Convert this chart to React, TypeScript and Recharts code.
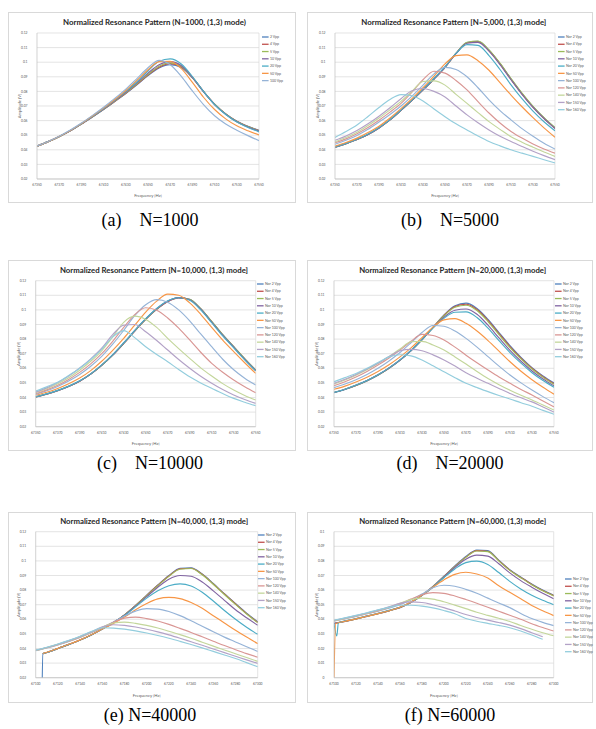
import React from 'react';
import { LineChart, Line, XAxis, YAxis, CartesianGrid, Legend } from 'recharts';

// ---------- shared ticks / labels ----------
const COLORS = ['#4F81BD', '#C0504D', '#9BBB59', '#8064A2', '#4BACC6', '#F79646', '#95B3D7', '#D99694', '#C3D69B', '#B3A2C7', '#93CDDD'];
const xTicksHigh = [67350, 67370, 67390, 67410, 67430, 67450, 67470, 67490, 67510, 67530, 67550];
const xTicksLow = [67100, 67120, 67140, 67160, 67180, 67200, 67220, 67240, 67260, 67280, 67300];
const yTicks02 = [0.02, 0.03, 0.04, 0.05, 0.06, 0.07, 0.08, 0.09, 0.1, 0.11, 0.12];
const yTicks00 = [0, 0.01, 0.02, 0.03, 0.04, 0.05, 0.06, 0.07, 0.08, 0.09, 0.1];
const namesA = ['2 Vpp', '4 Vpp', '5 Vpp', '10 Vpp', '20 Vpp', '50 Vpp', '100 Vpp'];
const namesNor = ['Nor 2 Vpp', 'Nor 4 Vpp', 'Nor 5 Vpp', 'Nor 10 Vpp', 'Nor 20 Vpp', 'Nor 50 Vpp', 'Nor 100 Vpp', 'Nor 120 Vpp', 'Nor 140 Vpp', 'Nor 150 Vpp', 'Nor 160 Vpp'];

// ---------- frequency rows (Hz) ----------
const freqHigh = [67350, 67360, 67370, 67380, 67390, 67400, 67410, 67420, 67430, 67440, 67450, 67460, 67470, 67480, 67490, 67500, 67510, 67520, 67530, 67540, 67550];
const freqE = [67100, 67105.5, 67106.5, 67110, 67120, 67130, 67140, 67150, 67160, 67170, 67180, 67190, 67200, 67210, 67220, 67230, 67240, 67250, 67260, 67270, 67280, 67290, 67300];
const freqF = [67100, 67101.5, 67102.5, 67104, 67110, 67120, 67130, 67140, 67150, 67160, 67170, 67180, 67190, 67200, 67210, 67220, 67230, 67240, 67250, 67260, 67270, 67280, 67290, 67300];

// ---------- amplitudes in mV ----------
// (a) N=1000
const a2 = [42.5, 45.6, 49.0, 53.0, 57.6, 62.5, 67.6, 73.0, 78.5, 84.5, 90.8, 96.0, 98.3, 96.3, 89.2, 79.8, 71.2, 64.6, 59.6, 56.1, 53.4];
const a4 = [42.5, 45.6, 49.0, 53.0, 57.6, 62.6, 67.7, 73.1, 78.7, 84.8, 91.2, 96.6, 99.0, 96.8, 89.5, 80.0, 71.3, 64.6, 59.6, 56.0, 53.2];
const a5 = [42.5, 45.6, 49.0, 53.0, 57.7, 62.7, 67.8, 73.3, 79.0, 85.2, 91.7, 97.2, 99.5, 97.2, 89.7, 80.0, 71.2, 64.5, 59.4, 55.9, 53.0];
const a10 = [42.5, 45.6, 49.1, 53.1, 57.8, 62.8, 68.0, 73.6, 79.4, 85.8, 92.5, 98.2, 100.4, 97.8, 89.8, 79.8, 71.0, 64.3, 59.2, 55.6, 52.8];
const a20 = [42.5, 45.6, 49.1, 53.2, 57.9, 63.0, 68.3, 74.0, 80.0, 86.6, 94.0, 100.6, 102.3, 98.8, 90.2, 80.0, 71.0, 64.2, 59.0, 55.3, 52.3];
const a50 = [42.5, 45.6, 49.2, 53.3, 58.0, 63.2, 68.6, 74.4, 80.6, 87.5, 94.8, 100.4, 100.6, 95.6, 86.2, 76.0, 67.6, 61.2, 56.4, 53.0, 50.2];
const a100 = [42.6, 45.7, 49.3, 53.5, 58.3, 63.6, 69.2, 75.2, 81.6, 88.8, 96.2, 101.3, 98.2, 90.3, 80.3, 71.0, 63.3, 57.6, 53.4, 49.7, 46.3];

// (b) N=5000
const b2 = [41.8, 44.2, 47.0, 50.5, 55.0, 60.5, 67.0, 73.8, 81.0, 88.5, 96.5, 106.0, 113.5, 114.3, 108.2, 99.0, 88.5, 78.5, 69.5, 61.8, 55.0];
const b4 = [41.8, 44.2, 47.0, 50.5, 55.0, 60.5, 67.0, 73.8, 81.0, 88.5, 96.5, 106.0, 113.3, 114.0, 108.0, 98.8, 88.3, 78.3, 69.3, 61.6, 54.8];
const b5 = [41.8, 44.2, 47.0, 50.5, 55.0, 60.5, 67.0, 73.8, 81.0, 88.5, 96.5, 106.0, 113.6, 114.5, 108.5, 99.3, 88.8, 78.8, 69.8, 62.0, 55.2];
const b10 = [41.8, 44.2, 47.0, 50.5, 55.0, 60.5, 67.0, 73.8, 81.0, 88.5, 96.5, 105.8, 113.0, 113.6, 107.6, 98.4, 88.0, 78.0, 69.0, 61.3, 54.6];
const b20 = [42.0, 44.4, 47.2, 50.8, 55.3, 60.8, 67.3, 74.2, 81.5, 89.0, 97.0, 106.0, 112.0, 111.5, 104.5, 95.0, 84.5, 75.0, 66.5, 59.2, 53.0];
const b50 = [42.5, 45.0, 48.0, 51.8, 56.2, 61.8, 68.2, 75.0, 82.5, 90.5, 98.8, 104.5, 105.0, 101.0, 94.5, 86.0, 77.5, 69.5, 62.0, 55.0, 48.6];
const b100 = [43.8, 46.5, 49.8, 54.0, 59.0, 64.2, 70.0, 76.8, 84.3, 92.0, 96.5, 95.0, 90.0, 82.5, 74.2, 66.8, 60.5, 54.5, 49.3, 44.5, 40.5];
const b120 = [44.8, 47.5, 51.0, 55.3, 60.3, 65.8, 71.8, 79.5, 88.0, 93.8, 92.5, 87.5, 81.0, 73.0, 65.2, 58.4, 52.6, 48.0, 44.0, 40.6, 37.7];
const b140 = [45.5, 48.4, 52.0, 56.6, 61.8, 67.4, 73.2, 80.0, 86.8, 87.2, 84.3, 78.0, 71.8, 65.5, 59.3, 54.0, 49.0, 45.2, 41.8, 38.5, 35.5];
const b150 = [46.5, 49.5, 53.2, 57.8, 63.0, 68.8, 75.0, 80.5, 82.0, 80.0, 76.2, 70.0, 63.9, 58.5, 53.6, 49.3, 45.7, 42.3, 39.0, 36.0, 33.2];
const b160 = [48.5, 52.5, 57.0, 62.8, 69.0, 74.5, 77.8, 77.0, 73.5, 68.0, 62.7, 57.8, 53.6, 49.5, 45.7, 42.7, 40.0, 37.7, 35.5, 33.2, 31.0];

// (c) N=10000
const c2 = [40.3, 42.3, 44.7, 47.6, 51.2, 56.0, 62.0, 69.0, 77.0, 85.5, 93.5, 100.5, 105.8, 108.4, 107.2, 100.8, 92.0, 83.0, 74.8, 66.5, 58.8];
const c4 = [40.3, 42.3, 44.7, 47.6, 51.2, 56.0, 62.0, 69.0, 77.0, 85.5, 93.5, 100.4, 105.6, 108.2, 107.0, 100.6, 91.8, 82.8, 74.6, 66.3, 58.6];
const c5 = [40.4, 42.4, 44.8, 47.7, 51.3, 56.1, 62.1, 69.1, 77.1, 85.6, 93.6, 100.6, 105.9, 108.5, 107.3, 100.9, 92.1, 83.1, 74.9, 66.6, 58.9];
const c10 = [40.4, 42.4, 44.8, 47.7, 51.3, 56.1, 62.2, 69.2, 77.3, 85.8, 93.8, 100.8, 106.0, 108.4, 107.0, 100.5, 91.7, 82.7, 74.5, 66.2, 58.5];
const c20 = [40.5, 42.5, 44.9, 47.8, 51.4, 56.2, 62.3, 69.4, 77.5, 86.0, 94.0, 101.0, 106.2, 108.3, 106.6, 100.0, 91.2, 82.2, 74.0, 65.8, 58.2];
const c50 = [41.5, 43.6, 46.2, 49.4, 53.3, 58.4, 64.8, 72.3, 80.5, 89.5, 98.5, 106.0, 110.8, 110.0, 104.8, 97.0, 88.0, 79.3, 71.4, 63.8, 56.5];
const c100 = [42.1, 44.6, 47.6, 51.3, 55.8, 61.4, 68.2, 76.5, 86.0, 96.0, 103.5, 107.0, 105.3, 100.0, 92.5, 83.5, 74.8, 66.2, 59.0, 53.2, 48.5];
const c120 = [42.6, 45.2, 48.4, 52.4, 57.2, 63.0, 70.0, 78.5, 88.0, 96.8, 101.5, 99.8, 94.5, 87.5, 79.4, 71.0, 63.4, 57.3, 52.0, 47.4, 43.3];
const c140 = [43.3, 46.0, 49.4, 53.6, 58.7, 64.8, 72.0, 81.5, 91.5, 95.7, 93.5, 88.0, 80.5, 73.5, 66.8, 60.3, 54.7, 49.5, 45.1, 41.4, 38.3];
const c150 = [43.7, 46.6, 50.2, 54.7, 60.2, 66.5, 73.8, 83.0, 89.5, 90.0, 85.0, 79.0, 72.5, 66.0, 60.0, 54.5, 49.7, 45.4, 41.7, 38.6, 36.0];
const c160 = [44.4, 47.3, 50.5, 55.0, 60.0, 66.0, 73.0, 81.5, 85.8, 81.0, 74.8, 69.5, 64.5, 59.2, 54.2, 50.0, 46.3, 42.7, 39.4, 36.8, 34.4];

// (d) N=20000
const d2 = [43.3, 45.5, 48.2, 51.4, 55.3, 60.0, 65.5, 72.0, 79.5, 88.0, 96.5, 102.8, 104.6, 101.0, 93.5, 84.5, 75.5, 67.5, 60.5, 54.8, 50.0];
const d4 = [43.4, 45.6, 48.3, 51.5, 55.4, 60.1, 65.6, 72.1, 79.6, 88.0, 96.3, 102.3, 103.9, 100.3, 92.8, 83.8, 74.9, 67.0, 60.0, 54.3, 49.5];
const d5 = [43.4, 45.6, 48.3, 51.5, 55.4, 60.1, 65.6, 72.1, 79.6, 88.0, 96.0, 101.8, 103.2, 99.6, 92.0, 83.0, 74.2, 66.4, 59.5, 53.8, 49.0];
const d10 = [43.4, 45.6, 48.4, 51.6, 55.5, 60.2, 65.7, 72.2, 79.7, 87.8, 95.0, 99.8, 100.6, 97.0, 89.5, 80.8, 72.3, 64.8, 58.2, 52.7, 48.0];
const d20 = [43.5, 45.7, 48.5, 51.7, 55.6, 60.3, 65.8, 72.3, 79.8, 87.6, 94.2, 98.4, 98.6, 94.8, 87.5, 79.0, 70.8, 63.5, 57.0, 51.6, 47.0];
const d50 = [45.6, 47.8, 50.6, 53.9, 57.8, 62.4, 67.8, 74.0, 81.0, 88.2, 93.2, 94.0, 90.8, 85.5, 79.0, 71.8, 64.5, 58.0, 52.2, 47.0, 42.2];
const d100 = [46.7, 49.2, 52.2, 55.8, 60.0, 65.0, 70.8, 77.5, 84.5, 89.3, 88.8, 85.5, 80.5, 74.5, 68.0, 61.5, 55.4, 50.0, 45.1, 40.6, 36.4];
const d120 = [48.1, 50.8, 54.0, 57.8, 62.2, 67.0, 72.5, 78.5, 83.2, 82.5, 79.4, 74.5, 69.0, 63.8, 58.8, 54.0, 49.7, 45.5, 41.7, 37.6, 33.6];
const d140 = [49.2, 52.0, 55.3, 59.0, 63.3, 68.0, 73.2, 78.2, 78.4, 76.0, 72.5, 67.8, 62.9, 57.8, 53.0, 48.8, 45.0, 41.5, 38.3, 34.9, 31.4];
const d150 = [49.7, 52.5, 55.8, 59.5, 63.5, 68.0, 72.0, 73.0, 72.0, 69.2, 65.7, 61.5, 57.0, 53.2, 49.7, 46.2, 42.8, 39.8, 37.0, 33.5, 30.0];
const d160 = [50.8, 53.6, 56.5, 60.0, 64.0, 67.8, 69.3, 68.5, 65.7, 61.8, 57.7, 53.6, 49.7, 46.8, 44.0, 41.4, 39.0, 36.4, 34.0, 31.2, 28.5];

// (e) N=40000
const e2 = [null, 0, 36.5, 37.3, 40.0, 42.8, 45.8, 49.3, 53.3, 57.8, 63.0, 69.5, 76.5, 83.5, 90.0, 95.0, 95.3, 91.0, 84.5, 77.5, 70.8, 64.2, 58.3];
const e4 = [null, null, 36.5, 37.3, 40.0, 42.8, 45.8, 49.3, 53.3, 57.8, 63.0, 69.5, 76.4, 83.3, 89.7, 94.6, 95.0, 90.8, 84.2, 77.3, 70.5, 63.9, 58.0];
const e5 = [null, null, 36.5, 37.3, 40.0, 42.8, 45.8, 49.3, 53.3, 57.8, 63.0, 69.4, 76.2, 83.0, 89.4, 94.3, 94.8, 90.5, 84.0, 77.0, 70.2, 63.6, 57.7];
const e10 = [null, null, 36.5, 37.3, 40.0, 42.8, 45.8, 49.3, 53.3, 57.8, 62.8, 69.0, 75.5, 82.0, 87.5, 90.0, 89.5, 85.5, 79.5, 73.0, 66.5, 61.0, 55.9];
const e20 = [null, null, 36.5, 37.3, 40.0, 42.8, 45.8, 49.3, 53.3, 57.7, 62.5, 68.5, 74.5, 79.5, 83.0, 84.3, 82.8, 78.5, 72.5, 66.0, 60.0, 54.5, 49.7];
const e50 = [null, null, 36.6, 37.4, 40.1, 42.9, 45.9, 49.4, 53.3, 57.2, 61.5, 66.5, 70.8, 74.0, 75.0, 74.2, 71.5, 67.5, 62.5, 57.5, 52.5, 47.8, 43.3];
const e100 = [38.5, null, null, 40.4, 42.5, 44.9, 47.6, 50.8, 54.3, 58.2, 62.3, 65.6, 67.3, 67.0, 65.3, 62.5, 59.0, 55.2, 51.5, 47.8, 44.5, 41.2, 38.0];
const e120 = [38.6, null, null, 40.5, 42.6, 45.0, 47.8, 51.0, 54.4, 58.0, 60.8, 61.5, 60.5, 58.8, 56.5, 53.8, 51.0, 48.0, 45.0, 42.0, 39.2, 36.5, 34.0];
const e140 = [38.7, null, null, 40.6, 42.8, 45.2, 48.0, 51.2, 54.6, 57.5, 58.1, 57.2, 55.8, 54.0, 51.8, 49.5, 47.0, 44.3, 41.6, 39.0, 36.4, 33.8, 31.2];
const e150 = [38.8, null, null, 40.7, 42.9, 45.4, 48.2, 51.4, 54.8, 56.3, 55.8, 54.7, 53.2, 51.4, 49.3, 47.0, 44.6, 42.2, 39.7, 37.2, 34.7, 32.2, 29.8];
const e160 = [38.9, null, null, 40.9, 43.1, 45.6, 48.4, 51.6, 54.2, 54.0, 53.3, 52.1, 50.6, 48.9, 47.0, 44.9, 42.7, 40.4, 38.0, 35.6, 33.1, 30.3, 27.5];

// (f) N=60000
const f2 = [37.0, null, null, null, 38.6, 40.2, 42.0, 43.8, 45.8, 48.0, 51.5, 56.5, 62.5, 69.5, 76.5, 83.0, 87.5, 87.0, 80.5, 74.0, 69.0, 64.2, 60.0, 56.5];
const f4 = [37.0, null, null, null, 38.6, 40.2, 42.0, 43.8, 45.8, 48.0, 51.5, 56.4, 62.3, 69.2, 76.2, 82.6, 87.0, 86.6, 80.2, 73.7, 68.7, 63.9, 59.7, 56.2];
const f5 = [37.1, null, null, null, 38.7, 40.3, 42.1, 43.9, 45.9, 48.1, 51.6, 56.4, 62.2, 69.0, 76.0, 82.4, 86.8, 86.4, 80.0, 73.5, 68.5, 63.7, 59.5, 56.0];
const f10 = [37.2, null, null, null, 38.8, 40.4, 42.2, 44.0, 46.0, 48.2, 51.6, 56.3, 62.0, 68.8, 75.5, 81.2, 84.0, 83.3, 78.0, 71.8, 66.5, 62.0, 57.8, 54.0];
const f20 = [37.3, null, 28.6, 37.6, 38.9, 40.5, 42.3, 44.1, 46.1, 48.3, 51.7, 56.3, 62.0, 68.5, 74.5, 78.8, 79.8, 77.5, 72.0, 66.0, 60.8, 56.5, 53.0, 50.0];
const f50 = [0, 37.0, null, null, 38.7, 40.3, 42.1, 43.9, 45.9, 48.2, 51.8, 56.5, 62.0, 67.0, 70.8, 72.2, 71.0, 68.3, 63.0, 58.5, 54.0, 49.5, 45.8, 42.5];
const f100 = [38.8, null, null, null, 40.4, 42.0, 43.8, 45.6, 47.6, 50.0, 53.2, 57.3, 61.6, 63.3, 62.6, 60.5, 57.8, 54.5, 51.2, 48.0, 44.0, 40.5, 37.9, 35.7];
const f120 = [38.9, null, null, null, 40.5, 42.1, 43.9, 45.8, 47.9, 50.5, 53.8, 56.8, 58.3, 57.8, 56.0, 53.6, 51.0, 48.2, 45.5, 42.8, 40.0, 37.0, 34.4, 32.0];
const f140 = [39.0, null, null, null, 40.6, 42.3, 44.1, 46.0, 48.2, 51.0, 53.5, 54.5, 53.8, 52.0, 49.7, 47.3, 44.8, 42.7, 40.7, 38.5, 35.8, 33.2, 30.8, 28.7];
const f150 = [39.2, null, null, null, 40.8, 42.5, 44.3, 46.3, 48.5, 50.9, 51.9, 51.5, 50.0, 48.0, 45.7, 43.3, 41.2, 39.4, 37.8, 36.0, 33.6, 30.8, 28.0, null];
const f160 = [39.4, null, null, null, 41.0, 42.7, 44.5, 46.5, 48.2, 49.6, 49.6, 49.0, 47.8, 46.0, 43.8, 40.6, 38.7, 37.2, 35.8, 34.2, 32.0, 29.3, 26.3, null];

// ---------- table building ----------
type Val = number | null;
function buildRows(freq: number[], series: Val[][]) {
  return freq.map((f, i) => {
    const row: Record<string, number | null> = { f };
    series.forEach((s, k) => {
      const v = s[i];
      row['s' + k] = v == null ? null : v / 1000; // mV -> V
    });
    return row;
  });
}

const FONT = "Lato, 'Liberation Sans', sans-serif";
const TICK = { fontSize: 3.3, fill: '#595959', fontFamily: FONT };
const fmtY = (v: number) => (v === 0 ? '0' : String(Number(v.toFixed(2))));

type PanelCfg = {
  left: number; top: number; w: number;
  plotLeft: number; plotTop: number; plotWidth: number;
  title: string; titleX: number; titleY: number; titleLen: number;
  legendX: number; legendY: number;
  freq: number[]; series: Val[][]; names: string[];
  xDomain: [number, number]; xTicks: number[];
  yDomain: [number, number]; yTicks: number[];
  caption: string;
};

const H = 191;
const PLOT_H = 146;

const panels: PanelCfg[] = [
  {
    left: 8, top: 12, w: 288, plotLeft: 29, plotTop: 21, plotWidth: 222,
    title: 'Normalized Resonance Pattern (N=1000, (1,3) mode)', titleX: 146.5, titleY: 10.7, titleLen: 183,
    legendX: 253.7, legendY: 25.3,
    freq: freqHigh, series: [a2, a4, a5, a10, a20, a50, a100], names: namesA,
    xDomain: [67350, 67550], xTicks: xTicksHigh, yDomain: [0.02, 0.12], yTicks: yTicks02,
    caption: '(a)    N=1000',
  },
  {
    left: 307, top: 12, w: 286, plotLeft: 28, plotTop: 21, plotWidth: 220,
    title: 'Normalized Resonance Pattern [N=5,000, (1,3) mode]', titleX: 146.8, titleY: 10.7, titleLen: 185,
    legendX: 251, legendY: 25.3,
    freq: freqHigh, series: [b2, b4, b5, b10, b20, b50, b100, b120, b140, b150, b160], names: namesNor,
    xDomain: [67350, 67550], xTicks: xTicksHigh, yDomain: [0.02, 0.12], yTicks: yTicks02,
    caption: '(b)    N=5000',
  },
  {
    left: 8, top: 260, w: 288, plotLeft: 27.7, plotTop: 20.7, plotWidth: 220,
    title: 'Normalized Resonance Pattern [N=10,000, (1,3) mode]', titleX: 146, titleY: 10, titleLen: 188,
    legendX: 249.3, legendY: 24,
    freq: freqHigh, series: [c2, c4, c5, c10, c20, c50, c100, c120, c140, c150, c160], names: namesNor,
    xDomain: [67350, 67550], xTicks: xTicksHigh, yDomain: [0.02, 0.12], yTicks: yTicks02,
    caption: '(c)    N=10000',
  },
  {
    left: 307, top: 260, w: 286, plotLeft: 27, plotTop: 20.7, plotWidth: 220,
    title: 'Normalized Resonance Pattern [N=20,000, (1,3) mode]', titleX: 145.7, titleY: 10, titleLen: 187,
    legendX: 248.3, legendY: 24,
    freq: freqHigh, series: [d2, d4, d5, d10, d20, d50, d100, d120, d140, d150, d160], names: namesNor,
    xDomain: [67350, 67550], xTicks: xTicksHigh, yDomain: [0.02, 0.12], yTicks: yTicks02,
    caption: '(d)    N=20000',
  },
  {
    left: 8, top: 512, w: 288, plotLeft: 27.7, plotTop: 19.7, plotWidth: 222,
    title: 'Normalized Resonance Pattern [N=40,000, (1,3) mode]', titleX: 146.2, titleY: 9.7, titleLen: 188,
    legendX: 250, legendY: 23,
    freq: freqE, series: [e2, e4, e5, e10, e20, e50, e100, e120, e140, e150, e160], names: namesNor,
    xDomain: [67100, 67300], xTicks: xTicksLow, yDomain: [0.02, 0.12], yTicks: yTicks02,
    caption: '(e) N=40000',
  },
  {
    left: 307, top: 512, w: 286, plotLeft: 27, plotTop: 19.7, plotWidth: 219.7,
    title: 'Normalized Resonance Pattern [N=60,000, (1,3) mode]', titleX: 145.7, titleY: 9.7, titleLen: 187,
    legendX: 257.7, legendY: 67,
    freq: freqF, series: [f2, f4, f5, f10, f20, f50, f100, f120, f140, f150, f160], names: namesNor,
    xDomain: [67100, 67300], xTicks: xTicksLow, yDomain: [0, 0.1], yTicks: yTicks00,
    caption: '(f) N=60000',
  },
];

const LEG_STEP = 7.27;

function LegendSvg({ names }: { names: string[] }) {
  return (
    <svg width={46} height={names.length * LEG_STEP + 4} style={{ display: 'block', overflow: 'visible' }}>
      {names.map((n, i) => (
        <g key={n}>
          <line x1={0} x2={6.6} y1={2 + i * LEG_STEP} y2={2 + i * LEG_STEP} stroke={COLORS[i]} strokeWidth={1.3} />
          <text x={8} y={2 + i * LEG_STEP} dy="0.35em" fontSize={3.5} fill="#595959" fontFamily={FONT}>{n}</text>
        </g>
      ))}
    </svg>
  );
}

function Panel({ p }: { p: PanelCfg }) {
  const rows = buildRows(p.freq, p.series);
  const plotRight = p.plotLeft + p.plotWidth;
  const xAxisH = H - p.plotTop - PLOT_H;
  return (
    <div style={{ position: 'absolute', left: p.left, top: p.top, width: p.w, height: H }}>
      <div style={{ position: 'absolute', left: 0, top: 0, width: p.w, height: H, border: '1px solid #d9d9d9', boxSizing: 'border-box' }} />
      <LineChart
        width={p.w}
        height={H}
        data={rows}
        margin={{ top: p.plotTop, right: p.w - plotRight, bottom: 0, left: 0 }}
        style={{ position: 'absolute', left: 0, top: 0 }}
      >
        <CartesianGrid stroke="#d9d9d9" strokeWidth={0.7} verticalPoints={[plotRight]} />
        <XAxis
          dataKey="f" type="number" domain={p.xDomain} ticks={p.xTicks} interval={0}
          height={xAxisH} tickLine={false} tickSize={2} tickMargin={2.5}
          axisLine={{ stroke: '#bfbfbf', strokeWidth: 0.7 }} tick={TICK} allowDataOverflow
        />
        <YAxis
          type="number" domain={p.yDomain} ticks={p.yTicks} interval={0} width={p.plotLeft}
          tickLine={false} tickSize={6} tickMargin={3.5} tickFormatter={fmtY}
          axisLine={{ stroke: '#bfbfbf', strokeWidth: 0.7 }} tick={TICK} allowDataOverflow
        />
        <Legend
          layout="vertical" align="center" verticalAlign="middle"
          wrapperStyle={{ left: p.legendX, top: p.legendY - 2, width: 46, height: p.names.length * LEG_STEP + 4 }}
          content={() => <LegendSvg names={p.names} />}
        />
        {p.names.map((n, k) => (
          <Line
            key={n} dataKey={'s' + k} name={n} stroke={COLORS[k]} strokeWidth={1.15}
            dot={false} activeDot={false} type="monotone" connectNulls isAnimationActive={false}
          />
        ))}
      </LineChart>
      <svg width={p.w} height={H} style={{ position: 'absolute', left: 0, top: 0, pointerEvents: 'none' }}>
        <text x={p.titleX} y={p.titleY} textAnchor="middle" dominantBaseline="central" fontSize={7.3} fontWeight={700}
          fontFamily={FONT} fill="#262626" textLength={p.titleLen} lengthAdjust="spacingAndGlyphs">{p.title}</text>
        <text x={p.plotLeft + p.plotWidth / 2} y={H - 8} textAnchor="middle" dominantBaseline="central" fontSize={4.2}
          fontFamily={FONT} fill="#595959">Frequency [Hz]</text>
        <text transform={`translate(${p.plotLeft - 17.5}, ${p.plotTop + PLOT_H / 2}) rotate(-90)`} textAnchor="middle"
          dominantBaseline="central" fontSize={4} fontFamily={FONT} fill="#595959">Amplitude [V]</text>
      </svg>
    </div>
  );
}

const captionY = [220, 220, 463, 463, 715, 715];

export default function App() {
  return (
    <div style={{ position: 'absolute', left: 0, top: 0, width: 596, height: 729, background: '#fff', overflow: 'hidden' }}>
      {panels.map((p) => <Panel key={p.caption} p={p} />)}
      {panels.map((p, i) => (
        <div key={'cap' + i} style={{
          position: 'absolute', left: (i % 2 === 0 ? 150 : 450) - 100, top: captionY[i] - 10, width: 200, height: 20,
          textAlign: 'center', whiteSpace: 'pre', fontFamily: "'Liberation Serif', 'Times New Roman', serif",
          fontSize: 18, lineHeight: '20px', color: '#000',
        }}>{p.caption}</div>
      ))}
    </div>
  );
}
